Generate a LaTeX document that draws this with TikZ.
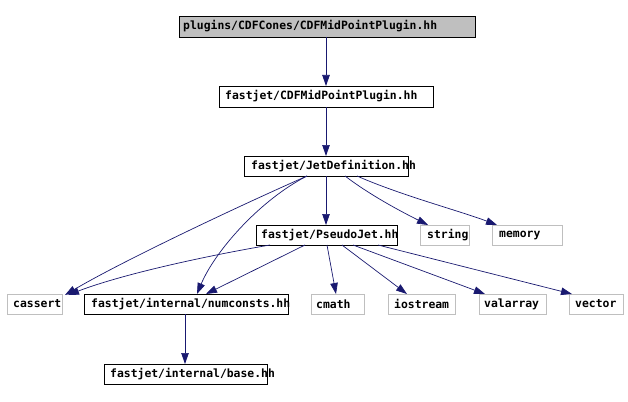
\documentclass[tikz,border=0pt]{standalone}
\usepackage{fontspec}
\setmonofont{DejaVu Sans Mono}
\usetikzlibrary{arrows.meta}
\definecolor{edgeblue}{HTML}{191970}
\definecolor{lgray}{HTML}{BFBFBF}
\begin{document}
\begin{tikzpicture}[x=1pt,y=-1pt,
  bx/.style={draw=black,line width=0.9pt,minimum height=21pt,inner sep=0pt,outer sep=0pt},
  gx/.style={draw=lgray,line width=0.9pt,minimum height=21pt,inner sep=0pt,outer sep=0pt},
  tx/.style={anchor=west,inner sep=0pt,font=\ttfamily\bfseries\fontsize{11.4}{12}\selectfont},
  edge/.style={draw=edgeblue,line width=0.7pt,-{Triangle[length=11pt,width=7.5pt]}}]
\useasboundingbox (0,0) rectangle (628,401);
% nodes
\node[bx,fill=lgray,minimum width=296pt,label={[tx,xshift=4pt]west:plugins/CDFCones/CDFMidPointPlugin.hh}] (top) at (327,26.5) {};
\node[bx,minimum width=214pt,label={[tx,xshift=6pt]west:fastjet/CDFMidPointPlugin.hh}] (cdf) at (326,96.5) {};
\node[bx,minimum width=164pt,minimum height=20pt,label={[tx,xshift=7pt]west:fastjet/JetDefinition.hh}] (jd) at (326,166) {};
\node[bx,minimum width=141pt,minimum height=20pt,label={[tx,xshift=5pt]west:fastjet/PseudoJet.hh}] (pj) at (326.5,235) {};
\node[gx,minimum width=49pt,minimum height=20pt,label={[tx,xshift=7pt]west:string}] (str) at (444.5,235) {};
\node[gx,minimum width=70pt,minimum height=20pt,label={[tx,xshift=7pt]west:memory}] (mem) at (527,235) {};
\node[gx,minimum width=55pt,minimum height=20pt,label={[tx,xshift=6pt]west:cassert}] (cas) at (34.5,304) {};
\node[bx,minimum width=204pt,minimum height=20pt,label={[tx,xshift=7pt]west:fastjet/internal/numconsts.hh}] (num) at (186,304) {};
\node[gx,minimum width=53pt,minimum height=20pt,label={[tx,xshift=5pt]west:cmath}] (cmath) at (337.5,304) {};
\node[gx,minimum width=67pt,minimum height=20pt,label={[tx,xshift=6pt]west:iostream}] (ios) at (421.5,304) {};
\node[gx,minimum width=67pt,minimum height=20pt,label={[tx,xshift=5pt]west:valarray}] (val) at (512.5,304) {};
\node[gx,minimum width=54pt,minimum height=20pt,label={[tx,xshift=6pt]west:vector}] (vec) at (596,304) {};
\node[bx,minimum width=163pt,minimum height=20pt,label={[tx,xshift=6pt]west:fastjet/internal/base.hh}] (base) at (185.5,374) {};
% edges
\draw[edge] (cdf.north |- top.south) -- (cdf.north);
\draw[edge] (cdf.south) -- (jd.north);
\draw[edge] (jd.south) -- (jd.south |- pj.north);
\draw[edge] ([xshift=19pt]jd.south) .. controls +(25,19) and +(-28,-14) .. ([xshift=8pt]str.north west);
\draw[edge] ([xshift=31pt]jd.south) .. controls +(43,19) and +(-37,-14) .. ([xshift=5pt]mem.north west);
\draw[edge] ([xshift=-19pt]jd.south) .. controls +(-77,34) and +(54,-32) .. ([xshift=3pt,yshift=-1pt]cas.north east);
\draw[edge] ([xshift=-19pt]jd.south) .. controls +(-47,24) and +(18,-43) .. ([xshift=11pt]num.north);
\draw[edge] ([xshift=-56.5pt]pj.south) .. controls +(-70,12) and +(52,-20) .. ([xshift=6pt,yshift=-1pt]cas.north east);
\draw[edge] ([xshift=-21.5pt]pj.south) -- ([xshift=20pt]num.north);
\draw[edge] ([xshift=0.5pt]pj.south) -- ([xshift=-1.5pt]cmath.north);
\draw[edge] ([xshift=15.5pt]pj.south) -- ([xshift=19pt]ios.north west);
\draw[edge] ([xshift=26.5pt]pj.south) -- ([xshift=6pt]val.north west);
\draw[edge] ([xshift=51.5pt]pj.south) -- ([xshift=3pt]vec.north west);
\draw[edge] ([xshift=-1pt]num.south) -- ([xshift=-1pt]num.south |- base.north);
\end{tikzpicture}
\end{document}
